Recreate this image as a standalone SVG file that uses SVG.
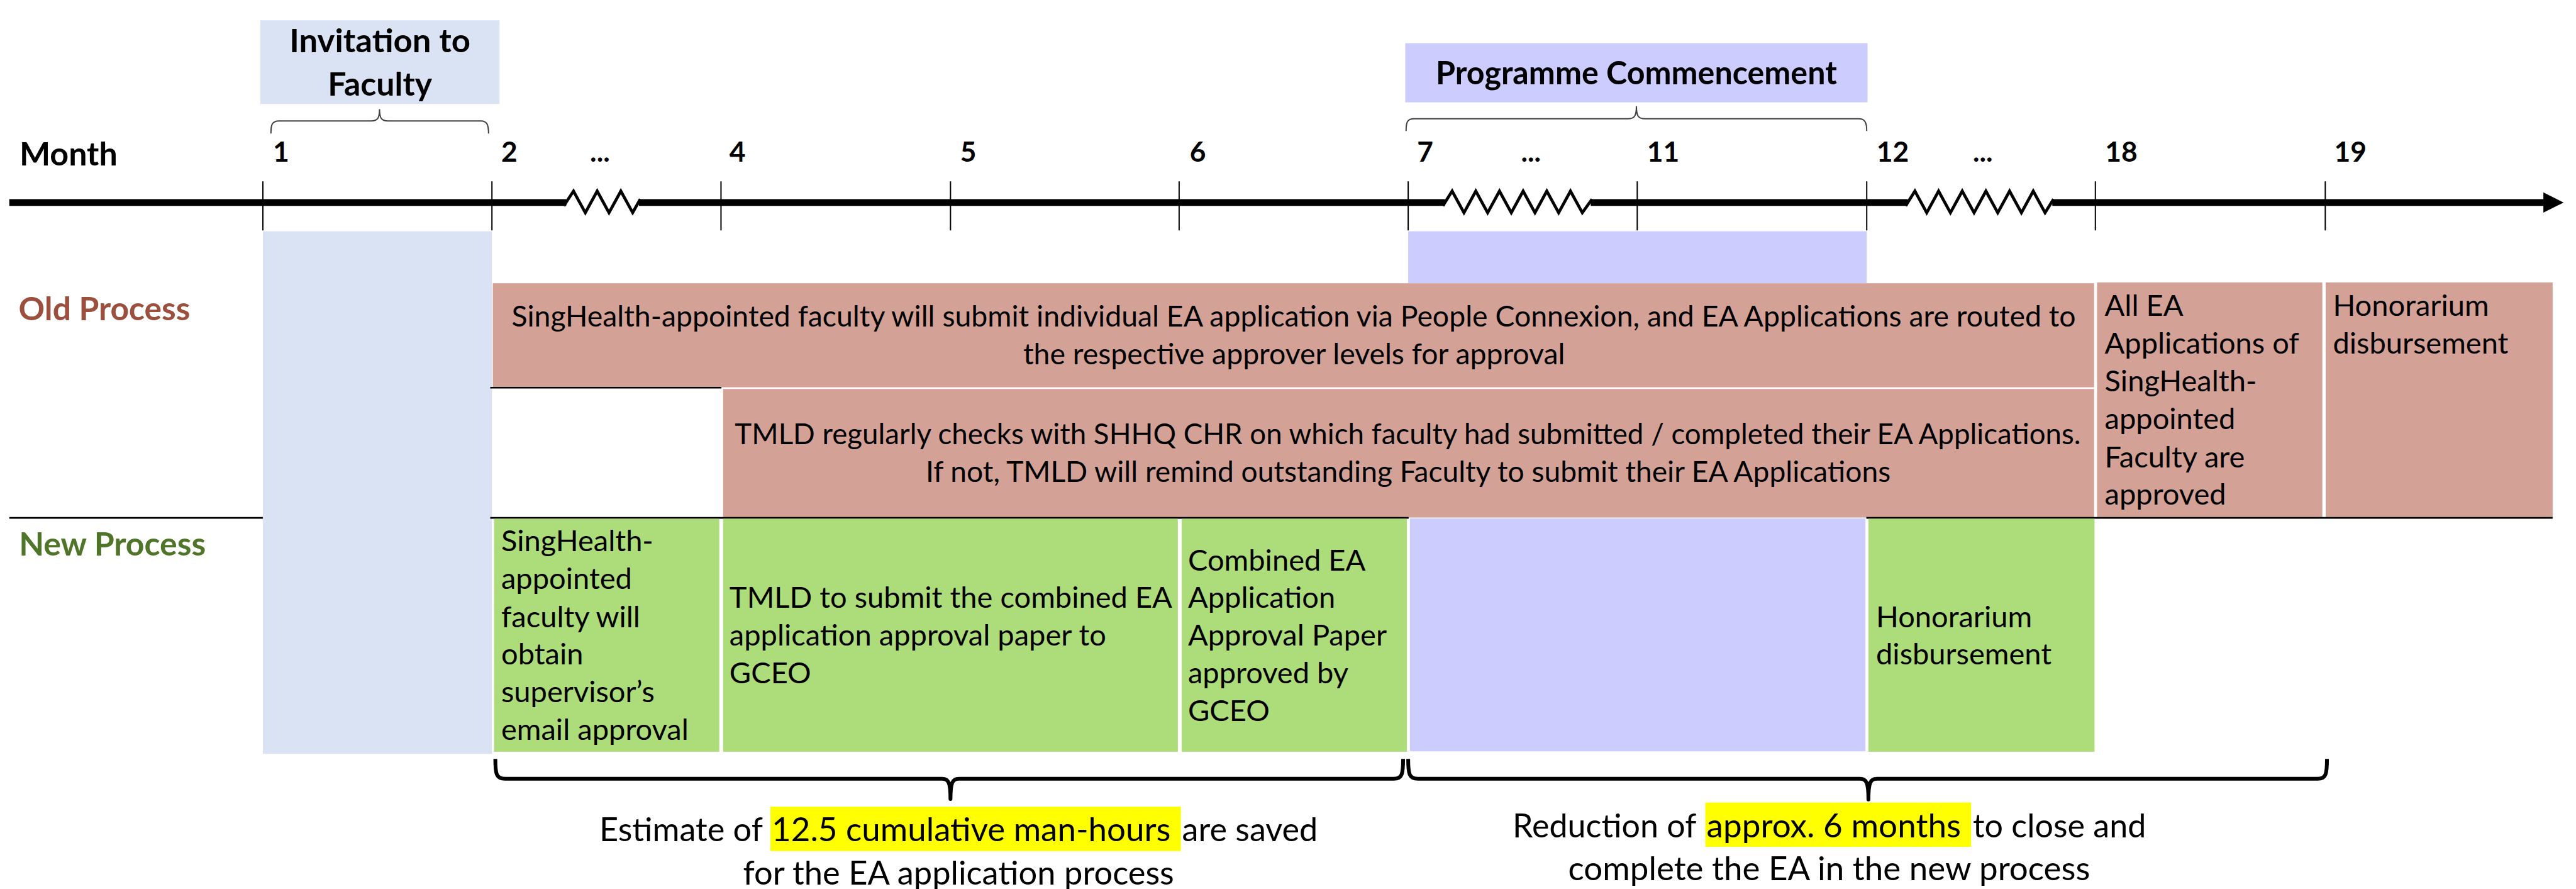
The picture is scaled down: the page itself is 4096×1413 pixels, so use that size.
<svg xmlns="http://www.w3.org/2000/svg" width="4096" height="1413" viewBox="0 0 4096 1413">
<style>
  text { font-family: Lato, "Liberation Sans", sans-serif; fill: #000; }
  .hd { font-weight: 700; font-size: 77px; }
  .mo { font-weight: 700; font-size: 66px; }
  .bd { font-size: 70px; }
  .nt { font-size: 78px; }
  .old { fill: #9B4F3C; }
  .new { fill: #4F7529; }
  .pink { fill: #D4A197; }
  .green { fill: #ADDC7B; }
  .lav { fill: #CCCCFF; }
  .blue { fill: #DAE3F3; }
  .hl { fill: #FFFF00; }
  .tick { stroke: #000; stroke-width: 3; }
  .rule { stroke: #000; stroke-width: 4; }
  .zig { fill: none; stroke: #000; stroke-width: 7; stroke-linejoin: miter; }
  .brace-s { fill: none; stroke: #404040; stroke-width: 3; }
  .brace-b { fill: none; stroke: #000; stroke-width: 9; stroke-linejoin: round; }
</style>
<rect width="4096" height="1413" fill="#fff"/>
<g transform="scale(0.672)">

  <!-- phase headers -->
  <g id="invitation">
    <rect class="blue" x="616" y="48" width="566" height="198"/>
    <text class="hd" x="899" y="124" text-anchor="middle" textLength="428" lengthAdjust="spacingAndGlyphs">Invitation to</text>
    <text class="hd" x="899" y="226" text-anchor="middle" textLength="247" lengthAdjust="spacingAndGlyphs">Faculty</text>
  </g>
  <g id="programme">
    <rect class="lav" x="3325" y="102" width="1094" height="140"/>
    <text class="hd" x="3872" y="199" text-anchor="middle" textLength="949" lengthAdjust="spacingAndGlyphs">Programme Commencement</text>
  </g>

  <!-- shaded period columns -->
  <rect id="invitation-col" class="blue" x="622" y="547" width="542" height="1236"/>
  <rect id="programme-col" class="lav" x="3332" y="547" width="1085" height="123"/>

  <!-- time axis -->
  <g id="axis">
    <text class="hd" x="46" y="392" textLength="232" lengthAdjust="spacingAndGlyphs">Month</text>
    <g class="mo">
      <text x="646" y="383">1</text>
      <text x="1186" y="383">2</text>
      <text x="1396" y="383">...</text>
      <text x="1726" y="383">4</text>
      <text x="2272" y="383">5</text>
      <text x="2815" y="383">6</text>
      <text x="3353" y="383">7</text>
      <text x="3599" y="383">...</text>
      <text x="3897" y="383">11</text>
      <text x="4440" y="383">12</text>
      <text x="4668" y="383">...</text>
      <text x="4981" y="383">18</text>
      <text x="5523" y="383">19</text>
    </g>
    <g class="tick">
      <line x1="622" y1="429" x2="622" y2="545"/>
      <line x1="1164" y1="429" x2="1164" y2="545"/>
      <line x1="1706" y1="429" x2="1706" y2="545"/>
      <line x1="2249" y1="429" x2="2249" y2="545"/>
      <line x1="2790" y1="429" x2="2790" y2="545"/>
      <line x1="3332" y1="429" x2="3332" y2="545"/>
      <line x1="3874" y1="429" x2="3874" y2="545"/>
      <line x1="4417" y1="429" x2="4417" y2="545"/>
      <line x1="4958" y1="429" x2="4958" y2="545"/>
      <line x1="5502" y1="429" x2="5502" y2="545"/>
    </g>
    <g fill="#000">
      <rect x="22" y="471" width="1318" height="16"/>
      <rect x="1512" y="471" width="1907" height="16"/>
      <rect x="3764" y="471" width="750" height="16"/>
      <rect x="4856" y="471" width="1166" height="16"/>
      <polygon points="6018,455 6066,479 6018,503"/>
    </g>
    <path class="zig" d="M1334,487 L1357,452 L1385,503 L1413,452 L1441,503 L1469,452 L1497,503 L1515,471"/>
    <path class="zig" d="M3414,487 L3436,452 L3464,503 L3492,452 L3520,503 L3548,452 L3576,503 L3604,452 L3632,503 L3660,452 L3688,503 L3716,452 L3744,503 L3767,471"/>
    <path class="zig" d="M4509,487 L4531,452 L4559,503 L4587,452 L4615,503 L4643,452 L4671,503 L4699,452 L4727,503 L4755,452 L4783,503 L4811,452 L4839,503 L4859,471"/>
  </g>

  <!-- old process row -->
  <g id="old-label">
    <text class="hd old" x="44" y="758" textLength="406" lengthAdjust="spacingAndGlyphs">Old Process</text>
  </g>
  <g id="old-submit">
    <rect class="pink" x="1166" y="670" width="3789" height="246"/>
    <text class="bd" x="3061" y="773" text-anchor="middle" textLength="3701" lengthAdjust="spacingAndGlyphs">SingHealth-appointed faculty will submit individual EA application via People Connexion, and EA Applications are routed to</text>
    <text class="bd" x="3062" y="861" text-anchor="middle" textLength="1282" lengthAdjust="spacingAndGlyphs">the respective approver levels for approval</text>
  </g>
  <g id="old-check">
    <rect class="pink" x="1711" y="920" width="3244" height="304"/>
    <text class="bd" x="3331" y="1050" text-anchor="middle" textLength="3185" lengthAdjust="spacingAndGlyphs">TMLD regularly checks with SHHQ CHR on which faculty had submitted / completed their EA Applications.</text>
    <text class="bd" x="3332" y="1140" text-anchor="middle" textLength="2283" lengthAdjust="spacingAndGlyphs">If not, TMLD will remind outstanding Faculty to submit their EA Applications</text>
  </g>
  <g id="old-approved">
    <rect class="pink" x="4962" y="668" width="533" height="555"/>
    <g class="bd">
      <text x="4980" y="747">All EA</text>
      <text x="4980" y="837">Applications of</text>
      <text x="4980" y="926">SingHealth-</text>
      <text x="4980" y="1015">appointed</text>
      <text x="4980" y="1105">Faculty are</text>
      <text x="4980" y="1194">approved</text>
    </g>
  </g>
  <g id="old-honorarium">
    <rect class="pink" x="5503" y="668" width="537" height="555"/>
    <g class="bd">
      <text x="5520" y="747">Honorarium</text>
      <text x="5520" y="837">disbursement</text>
    </g>
  </g>

  <!-- row dividers -->
  <g id="dividers" class="rule">
    <line x1="1160" y1="917" x2="1707" y2="917"/>
    <line x1="22" y1="1225" x2="622" y2="1225"/>
    <line x1="1160" y1="1225" x2="3333" y2="1225"/>
    <line x1="4416" y1="1225" x2="6040" y2="1225"/>
  </g>

  <!-- new process row -->
  <g id="new-label">
    <text class="hd new" x="45" y="1314" textLength="442" lengthAdjust="spacingAndGlyphs">New Process</text>
  </g>
  <g id="new-email">
    <rect class="green" x="1169" y="1227" width="533" height="551"/>
    <g class="bd">
      <text x="1186" y="1304">SingHealth-</text>
      <text x="1186" y="1393">appointed</text>
      <text x="1186" y="1483">faculty will</text>
      <text x="1186" y="1572">obtain</text>
      <text x="1186" y="1661">supervisor’s</text>
      <text x="1186" y="1750">email approval</text>
    </g>
  </g>
  <g id="new-submit">
    <rect class="green" x="1711" y="1227" width="1076" height="551"/>
    <g class="bd">
      <text x="1726" y="1438">TMLD to submit the combined EA</text>
      <text x="1726" y="1527">application approval paper to</text>
      <text x="1726" y="1616">GCEO</text>
    </g>
  </g>
  <g id="new-approved">
    <rect class="green" x="2796" y="1227" width="533" height="551"/>
    <g class="bd">
      <text x="2811" y="1349">Combined EA</text>
      <text x="2811" y="1438">Application</text>
      <text x="2811" y="1527">Approval Paper</text>
      <text x="2811" y="1616">approved by</text>
      <text x="2811" y="1706">GCEO</text>
    </g>
  </g>
  <rect id="new-programme" class="lav" x="3336" y="1226" width="1078" height="551"/>
  <g id="new-honorarium">
    <rect class="green" x="4421" y="1227" width="535" height="551"/>
    <g class="bd">
      <text x="4439" y="1483">Honorarium</text>
      <text x="4439" y="1572">disbursement</text>
    </g>
  </g>

  <!-- braces -->
  <g id="connectors">
    <path class="brace-s" d="M641,316 C641,296 643,286 660,286 L878,286 C893,286 898,280 898,258 C898,280 903,286 918,286 L1138,286 C1153,286 1156,296 1156,316"/>
    <path class="brace-s" d="M3327,310 C3327,290 3329,281 3346,281 L3852,281 C3867,281 3872,275 3872,251 C3872,275 3877,281 3892,281 L4398,281 C4413,281 4417,290 4417,310"/>
    <path class="brace-b" d="M1172,1795 C1172,1830 1174,1842 1195,1842 L2229,1842 C2244,1842 2249,1850 2249,1890 C2249,1850 2254,1842 2269,1842 L3298,1842 C3318,1842 3320,1830 3320,1795"/>
    <path class="brace-b" d="M3332,1795 C3332,1830 3334,1842 3355,1842 L4401,1842 C4416,1842 4421,1850 4421,1891 C4421,1850 4426,1842 4441,1842 L5484,1842 C5504,1842 5506,1830 5506,1795"/>
  </g>

  <!-- savings notes -->
  <g id="note-hours">
    <rect class="hl" x="1823" y="1908" width="971" height="105"/>
    <g class="nt">
      <text x="1418" y="1990" textLength="387" lengthAdjust="spacingAndGlyphs">Estimate of</text>
      <text x="1826" y="1990" textLength="944" lengthAdjust="spacingAndGlyphs">12.5 cumulative man-hours</text>
      <text x="2797" y="1990" textLength="321" lengthAdjust="spacingAndGlyphs">are saved</text>
      <text x="2268" y="2092" text-anchor="middle" textLength="1020" lengthAdjust="spacingAndGlyphs">for the EA application process</text>
    </g>
  </g>
  <g id="note-months">
    <rect class="hl" x="4035" y="1898" width="629" height="105"/>
    <g class="nt">
      <text x="3579" y="1980" textLength="435" lengthAdjust="spacingAndGlyphs">Reduction of</text>
      <text x="4038" y="1980" textLength="602" lengthAdjust="spacingAndGlyphs">approx. 6 months</text>
      <text x="4668" y="1980" textLength="410" lengthAdjust="spacingAndGlyphs">to close and</text>
      <text x="4328" y="2082" text-anchor="middle" textLength="1235" lengthAdjust="spacingAndGlyphs">complete the EA in the new process</text>
    </g>
  </g>
</g>
</svg>
